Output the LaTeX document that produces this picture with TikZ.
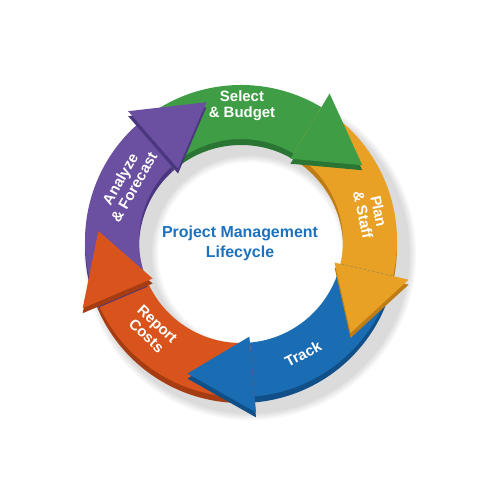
\documentclass[tikz,border=0pt]{standalone}
\usepackage{fontspec}
\setmainfont{Liberation Sans}
\definecolor{gF}{HTML}{3F9E45}\definecolor{gS}{HTML}{2A7533}
\definecolor{oF}{HTML}{E9A125}\definecolor{oS}{HTML}{BD7D14}
\definecolor{bF}{HTML}{1B6DB3}\definecolor{bS}{HTML}{104F88}
\definecolor{rF}{HTML}{D9541C}\definecolor{rS}{HTML}{A63C12}
\definecolor{pF}{HTML}{6B4FA0}\definecolor{pS}{HTML}{4B3680}
\definecolor{titleblue}{HTML}{1C72BE}
\newcommand{\shaftpath}[2]{(#1:156) arc[start angle=#1,end angle=#2,radius=156] -- (#2:102) arc[start angle=#2,end angle=#1,radius=102] -- cycle}
\newcommand{\headpath}[1]{(#1:96) -- ({#1-27}:143) -- (#1:172) -- cycle}
\newcommand{\shaft}[4]{%
  \fill[#4, shift={(241,253)}] \shaftpath{#1}{#2};
  \fill[#3, shift={(241,259)}] \shaftpath{#1}{#2};}
\newcommand{\arrowhead}[3]{%
  \fill[#3, shift={(241,254)}] \headpath{#1};
  \fill[#2, shift={(241,259)}] \headpath{#1};}
\tikzset{lbl/.style={text=white, font=\fontsize{15}{16}\selectfont\bfseries, align=center, inner sep=0pt}}
\begin{document}
\begin{tikzpicture}[x=1bp,y=1bp]
\useasboundingbox (0,0) rectangle (500,500);
\fill[white] (0,0) rectangle (500,500);
% soft shadow
\foreach \w in {4,8,12,16}{
  \fill[black, opacity=0.035, even odd rule] (250,246) circle ({158+\w/2}) circle ({100-\w/2});
}
% shafts
\shaft{131}{59}{gF}{gS}
\shaft{59}{-13}{oF}{oS}
\shaft{-13}{-85}{bF}{bS}
\shaft{-85}{-157}{rF}{rS}
\shaft{203}{131}{pF}{pS}
% heads
\arrowhead{59}{gF}{gS}
\arrowhead{-13}{oF}{oS}
\arrowhead{-85}{bF}{bS}
\arrowhead{-157}{rF}{rS}
\arrowhead{131}{pF}{pS}
% labels
\node[lbl] (sel) at (242,394) {Select\\\& Budget};
\node[lbl, rotate=-78] (plan) at (371,287) {Plan\\\& Staff};
\node[lbl, rotate=28] (track) at (303,146) {Track};
\node[lbl, rotate=-43] (report) at (152,170) {Report\\Costs};
\node[lbl, rotate=60] (analyze) at (127,317) {Analyze\\\& Forecast};
\node[text=titleblue, font=\fontsize{16}{20}\selectfont\bfseries, align=center, inner sep=0pt] (title) at (240,257) {Project Management\\Lifecycle};
\end{tikzpicture}
\end{document}
